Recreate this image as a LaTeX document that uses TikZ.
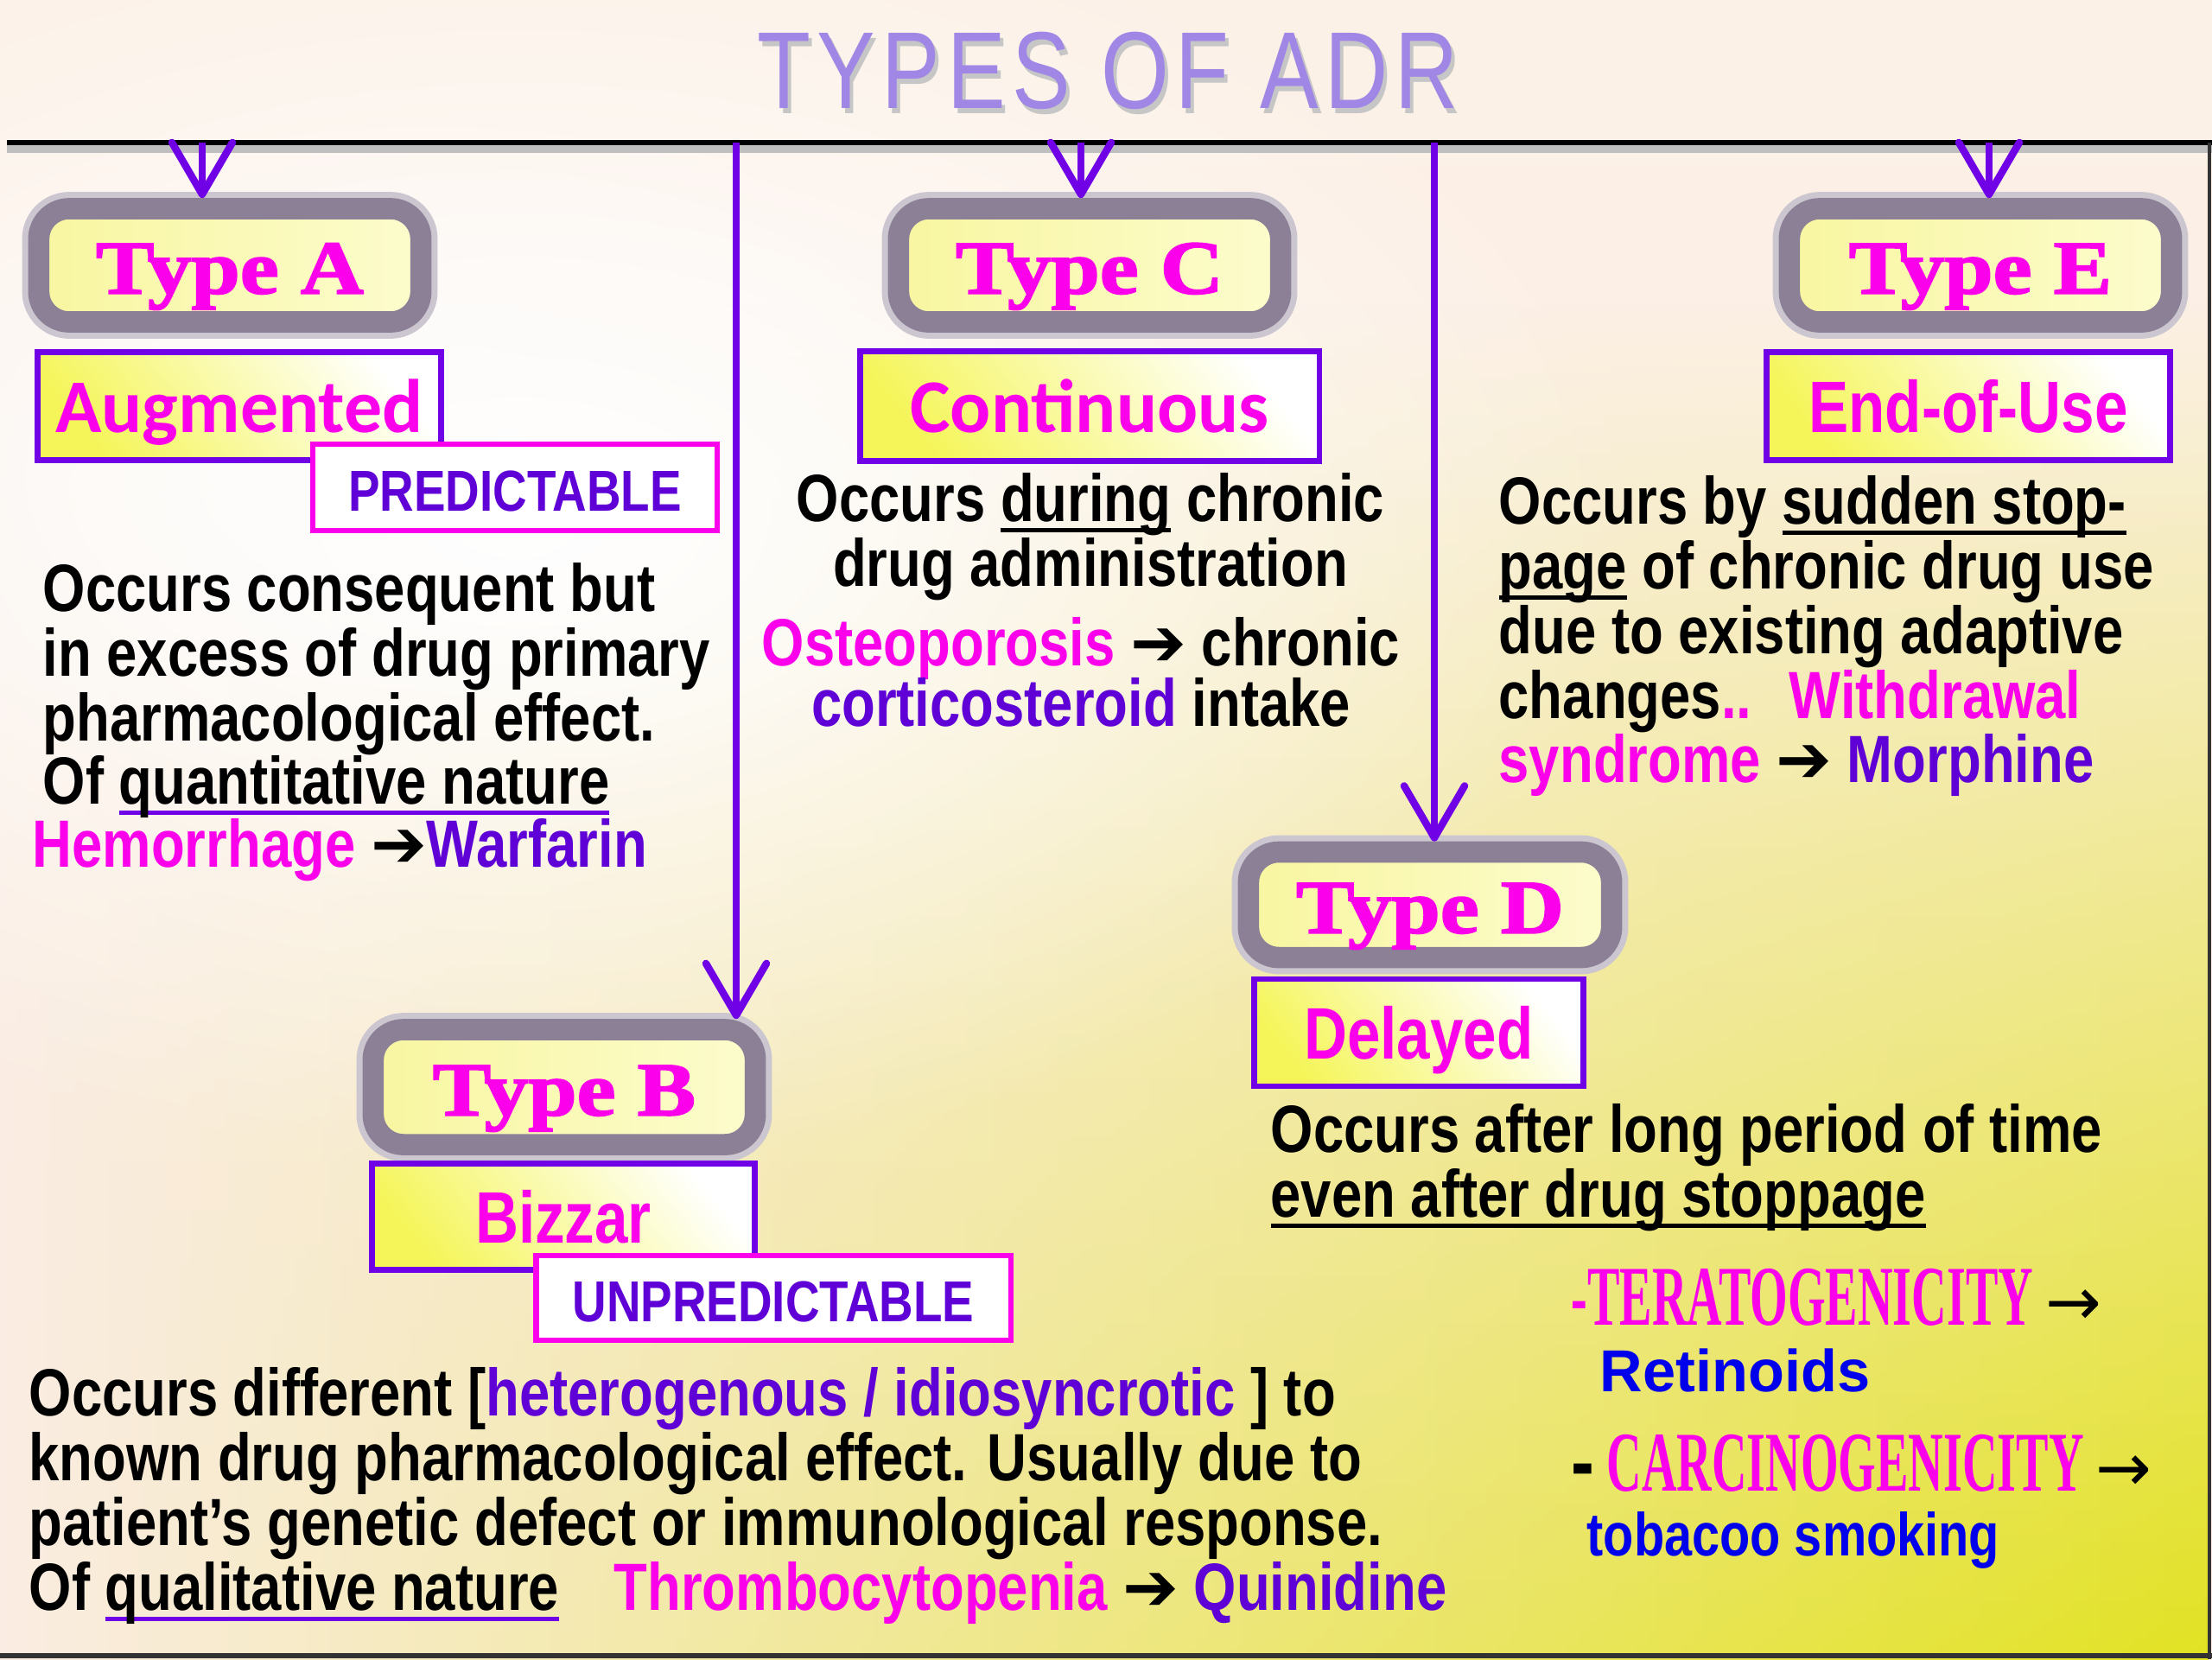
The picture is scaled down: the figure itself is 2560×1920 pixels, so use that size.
\documentclass[tikz,border=0pt]{standalone}
\usepackage{fontspec}
\setmainfont{Liberation Sans}
\newfontfamily\bodyfont[FakeStretch=0.82]{Liberation Sans}
\newfontfamily\calfont{Carlito}
\newfontfamily\typefont[FakeStretch=1.15,FakeBold=2.2]{Liberation Serif}
\newfontfamily\condfont[FakeStretch=0.57]{Liberation Serif}
\newfontfamily\titlefont[FakeStretch=0.8,LetterSpace=6]{Liberation Sans}
\newfontfamily\symfont{DejaVu Sans}
\usetikzlibrary{arrows.meta, positioning, fadings}
\usepackage{xcolor}

\definecolor{adrmag}{RGB}{250,0,235}
\definecolor{adrviolet}{RGB}{112,0,230}
\definecolor{adrpurple}{RGB}{95,0,215}
\definecolor{adrblue}{RGB}{0,0,235}
\definecolor{adrlav}{RGB}{160,135,230}
\definecolor{adrframe}{RGB}{140,128,150}
\definecolor{bgpeach}{RGB}{250,236,226}
\definecolor{bgtop}{RGB}{252,241,231}
\definecolor{bgyellow}{RGB}{226,226,35}

\tikzfading[name=glow,inner color=transparent!0,outer color=transparent!100]

\newcommand{\harr}{{\symfont ➔}}
\newsavebox\ulbox
\newcommand{\ulin}[2][black]{\sbox\ulbox{#2}\rlap{\color{#1}\rule[-0.17em]{\wd\ulbox}{0.07em}}\usebox\ulbox}

\begin{document}
\begin{tikzpicture}[x=0.01cm,y=-0.01cm,
    body/.style={font=\bodyfont\bfseries\fontsize{22}{22}\selectfont,inner sep=0pt},
    typebox/.style={draw=adrframe,line width=7pt,rounded corners=10pt,
      preaction={draw=adrframe!45,line width=11pt},
      left color={rgb,255:red,248;green,246;blue,160},right color={rgb,255:red,252;green,252;blue,205},
      minimum width=4.42cm,minimum height=1.31cm,text=adrmag,
      font=\typefont\bfseries\fontsize{25}{25}\selectfont,text height=18.5pt,text depth=0pt},
    namebox/.style={draw=adrviolet,line width=1.8pt,
      bottom color={rgb,255:red,245;green,245;blue,90},top color=white,shading angle=-50,
      text=adrmag,font=\bodyfont\bfseries\fontsize{24}{24}\selectfont,text height=17.5pt,text depth=0pt},
    tagbox/.style={draw=adrmag,line width=1.8pt,fill=white,text=adrpurple,
      font=\bodyfont\bfseries\fontsize{19}{19}\selectfont,text height=15.4pt,text depth=0pt},
    arr/.style={draw=adrviolet,line width=2.4pt,-{Straight Barb[length=6mm,width=7mm,round]}}]

  % background
  \useasboundingbox (0,0) rectangle (2560,1920);
  \shade[top color=bgtop,bottom color=bgpeach] (0,0) rectangle (2560,1920);
  \shade[left color=bgpeach,right color=bgyellow,path fading=north] (0,350) rectangle (2560,1920);
  \begin{scope}
    \clip (0,0) rectangle (2560,1920);
    \fill[white,path fading=glow] (600,600) ellipse (13cm and 7.5cm);
    \fill[white,opacity=0.6,path fading=glow] (500,550) ellipse (8cm and 4.5cm);
  \end{scope}

  % title
  \node[font=\titlefont\fontsize{36}{36}\selectfont,text=gray!45] (titleshadow) at (1286,88) {TYPES OF ADR};
  \node[font=\titlefont\fontsize{36}{36}\selectfont,text=adrlav] (title) at (1282,82) {TYPES OF ADR};

  \coordinate (lineL) at (8,165);
  \coordinate (lineR) at (2560,165);
  \draw[gray!50,line width=3pt] ([yshift=-2pt]lineL) -- ([yshift=-2pt]lineR);
  \draw[line width=1.6pt] (lineL) -- (lineR);
  \draw[black!80,line width=1pt] (2557,165) -- (2557,1920);
  \draw[black!80,line width=1.5pt] (0,1916) -- (2560,1916);

  % types
  \node[typebox] (typeA) at (266,307) {Type A};
  \node[typebox] (typeC) at (1261,307) {Type C};
  \node[typebox] (typeE) at (2292,307) {Type E};
  \node[typebox,minimum height=1.33cm] (typeB) at (653,1258) {Type B};
  \node[typebox,minimum width=4.2cm,minimum height=1.22cm] (typeD) at (1655,1047) {Type D};

  \node[namebox,minimum width=4.67cm,minimum height=1.25cm,font=\calfont\bfseries\fontsize{25}{25}\selectfont] (aug) at (277,470) {Augmented};
  \node[namebox,minimum width=5.31cm,minimum height=1.27cm,font=\calfont\bfseries\fontsize{25}{25}\selectfont] (cont) at (1261,470) {Continuous};
  \node[namebox,minimum width=4.67cm,minimum height=1.25cm] (eou) at (2278,470) {End-of-Use};
  \node[namebox,minimum width=4.43cm,minimum height=1.23cm] (biz) at (652,1408) {Bizzar};
  \node[namebox,minimum width=3.81cm,minimum height=1.24cm] (del) at (1642,1195) {Delayed};

  \node[tagbox,minimum width=4.68cm,minimum height=1cm] (pred) at (596,564) {PREDICTABLE};
  \node[tagbox,minimum width=5.49cm,minimum height=0.98cm] (unpred) at (895,1502) {UNPREDICTABLE};

  % arrows
  \coordinate (topA) at (234,165);
  \coordinate (topB) at (852,165);
  \coordinate (topC) at (1251,165);
  \coordinate (topD) at (1660,165);
  \coordinate (topE) at (2302,165);
  \draw[arr] (topA) -- (topA |- typeA.north);
  \draw[arr] (topC) -- (topC |- typeC.north);
  \draw[arr] (topE) -- (topE |- typeE.north);
  \draw[arr] (topB) -- (topB |- typeB.north);
  \draw[arr] (topD) -- (topD |- typeD.north);

  % type A text
  \foreach \yy/\txt [count=\i] in {707/{Occurs consequent but},782/{in excess of drug primary},
      857/{pharmacological effect.},930/{Of \ulin[adrviolet]{quantitative nature}}}
    \node[body,anchor=base west] (a\i) at (49,\yy) {\txt};
  \node[body,anchor=base west] (hem) at (37,1003)
    {{\color{adrmag}Hemorrhage} \harr{\color{adrpurple}Warfarin}};

  % type C text
  \foreach \xx/\yy/\txt [count=\i] in {1262/603/{Occurs \ulin{during} chronic},1262/678/{drug administration},
      1251/770/{{\color{adrmag}Osteoporosis} \harr\ chronic},1251/840/{{\color{adrpurple}corticosteroid} intake}}
    \node[body,anchor=base] (c\i) at (\xx,\yy) {\txt};

  % type E text
  \foreach \yy/\txt [count=\i] in {606/{Occurs by \ulin{sudden stop-}},681/{\ulin{page} of chronic drug use},
      756/{due to existing adaptive},831/{changes{\color{adrmag}..}},
      905/{{\color{adrmag}syndrome} \harr\ {\color{adrpurple}Morphine}}}
    \node[body,anchor=base west] (e\i) at (1734,\yy) {\txt};
  \node[body,anchor=base west,text=adrmag] (wd) at (2070,831) {Withdrawal};

  % type D text
  \node[body,anchor=base west] (d1) at (1470,1333) {Occurs after long period of time};
  \node[body,anchor=base west] (d2) at (1470,1408) {\ulin{even after drug stoppage}};

  % type B text
  \foreach \yy/\txt [count=\i] in {1638/{Occurs different [{\color{adrpurple}heterogenous / idiosyncrotic} ] to},
      1713/{known drug pharmacological effect. Usually due to},
      1788/{patient’s genetic defect or immunological response.},
      1863/{Of \ulin[adrviolet]{qualitative nature}}}
    \node[body,anchor=base west] (b\i) at (33,\yy) {\txt};
  \node[body,anchor=base west] (thr) at (710,1863)
    {{\color{adrmag}Thrombocytopenia} \harr\ {\color{adrpurple}Quinidine}};

  % long term effects
  \node[anchor=base west,inner sep=0pt,font=\condfont\bfseries\fontsize{28}{28}\selectfont] (terato) at (1818,1533)
    {{\color{adrmag}-TERATOGENICITY} {\symfont\mdseries\fontsize{22}{22}\selectfont →}};
  \node[anchor=base west,inner sep=0pt,font=\bfseries\fontsize{19.5}{20}\selectfont,text=adrblue] (retin) at (1851,1610) {Retinoids};
  \node[anchor=base west,inner sep=0pt,font=\condfont\bfseries\fontsize{28}{28}\selectfont] (carcino) at (1818,1725)
    {{\bodyfont -} {\color{adrmag}CARCINOGENICITY} {\symfont\mdseries\fontsize{22}{22}\selectfont →}};
  \node[body,anchor=base west,text=adrblue,font=\bodyfont\bfseries\fontsize{20}{20}\selectfont] (tobac) at (1836,1800) {tobacoo smoking};
\end{tikzpicture}
\end{document}
